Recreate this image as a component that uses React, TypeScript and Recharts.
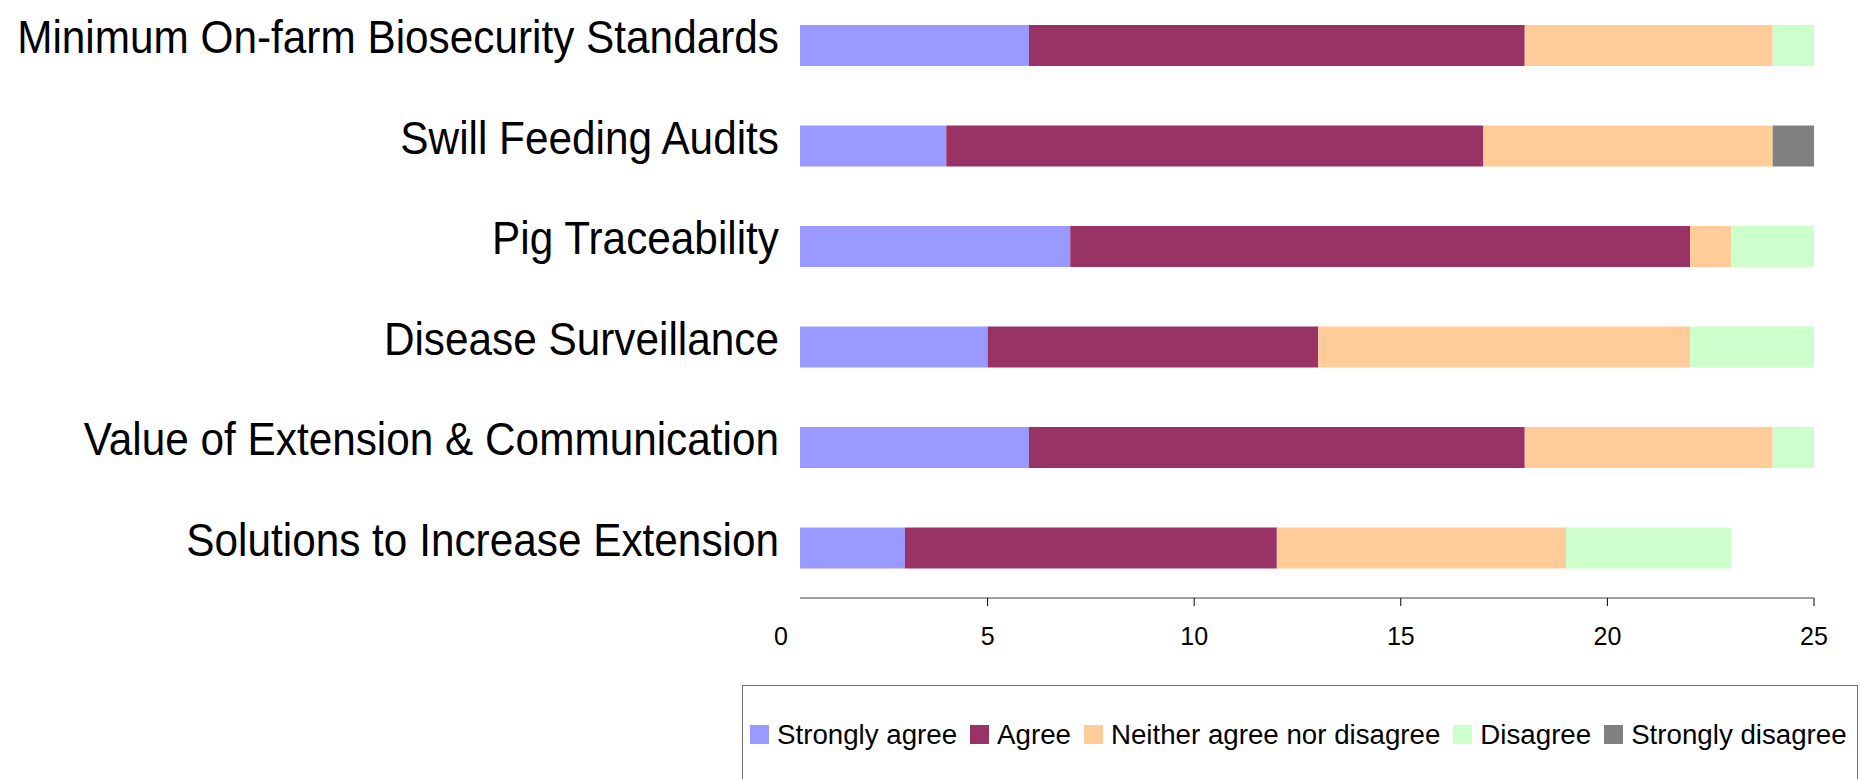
import { Bar, BarChart, Legend, XAxis, YAxis } from 'recharts'

const categories = [
  'Minimum On-farm Biosecurity Standards',
  'Swill Feeding Audits',
  'Pig Traceability',
  'Disease Surveillance',
  'Value of Extension & Communication',
  'Solutions to Increase Extension',
]
const stronglyAgree = [6, 4, 7, 5, 6, 3]
const agree = [12, 13, 15, 8, 12, 9]
const neither = [6, 7, 1, 9, 6, 7]
const disagree = [1, 0, 2, 3, 1, 4]
const stronglyDisagree = [0, 1, 0, 0, 0, 0]
const xTicks = [0, 5, 10, 15, 20, 25]

const series = [
  { key: 'sa', name: 'Strongly agree', color: '#9999FF' },
  { key: 'a', name: 'Agree', color: '#993366' },
  { key: 'n', name: 'Neither agree nor disagree', color: '#FFCC99' },
  { key: 'd', name: 'Disagree', color: '#CCFFCC' },
  { key: 'sd', name: 'Strongly disagree', color: '#808080' },
]

const data = categories.map((name, i) => ({
  name,
  sa: stronglyAgree[i],
  a: agree[i],
  n: neither[i],
  d: disagree[i],
  sd: stronglyDisagree[i],
}))

const sans = "'Liberation Sans', Arial, sans-serif"

const XTick = ({ x, y, payload }: any) => <g>
  {payload.value !== 0 && <line x1={x} x2={x} y1={y} y2={y + 8} stroke="#000" strokeWidth={1} />}
  <text x={x} y={y + 47} textAnchor="middle" fontFamily={sans} fontSize={25} fill="#000">{payload.value}</text>
</g>

// narrow face isn't installed: squeeze Liberation Sans a little
const YTick = ({ y, payload }: any) =>
  <text transform={`translate(779, ${y + 8}) scale(0.92, 1)`} textAnchor="end" fontFamily={sans} fontSize={46} fill="#000">{payload.value}</text>

const LegendBox = () => <div style={{ marginLeft: 742, width: 1116, height: 110, boxSizing: 'border-box', border: '1.5px solid #707070', display: 'flex', alignItems: 'center', paddingLeft: 7, paddingBottom: 11, fontFamily: sans, fontSize: 27.7, color: '#000', whiteSpace: 'nowrap' }}>
  {series.map(s => <div key={s.key} style={{ display: 'flex', alignItems: 'center', marginRight: 13, flexShrink: 0 }}>
    <span style={{ width: 19, height: 19, background: s.color, marginRight: 8, display: 'inline-block', flexShrink: 0 }} />
    <span style={{ lineHeight: '28px' }}>{s.name}</span>
  </div>)}
</div>

export default function App() {
  return <div style={{ position: 'absolute', left: 0, top: 0, width: 1871, height: 779, overflow: 'hidden', background: '#fff' }}>
    <style>{'body{margin:0;overflow:hidden}'}</style>
    <div style={{ position: 'relative', top: -5 }}>
      <BarChart width={1871} height={800} data={data} layout="vertical" margin={{ top: 0, right: 57, left: 0, bottom: 0 }}>
        <XAxis type="number" domain={[0.46, 25]} allowDataOverflow ticks={xTicks} interval={0} height={87}
          axisLine={{ stroke: '#808080', strokeWidth: 1.5 }} tickLine={false} tickSize={0} tickMargin={0} tick={<XTick />} />
        <YAxis type="category" dataKey="name" width={800} axisLine={false} tickLine={false} tickSize={0} tick={<YTick />} interval={0} />
        <Legend verticalAlign="bottom" content={<LegendBox />} wrapperStyle={{ left: 0, width: 1871, bottom: 0 }} />
        {series.map(s => <Bar key={s.key} dataKey={s.key} name={s.name} stackId="x" fill={s.color} barSize={41} isAnimationActive={false} />)}
      </BarChart>
    </div>
  </div>
}
